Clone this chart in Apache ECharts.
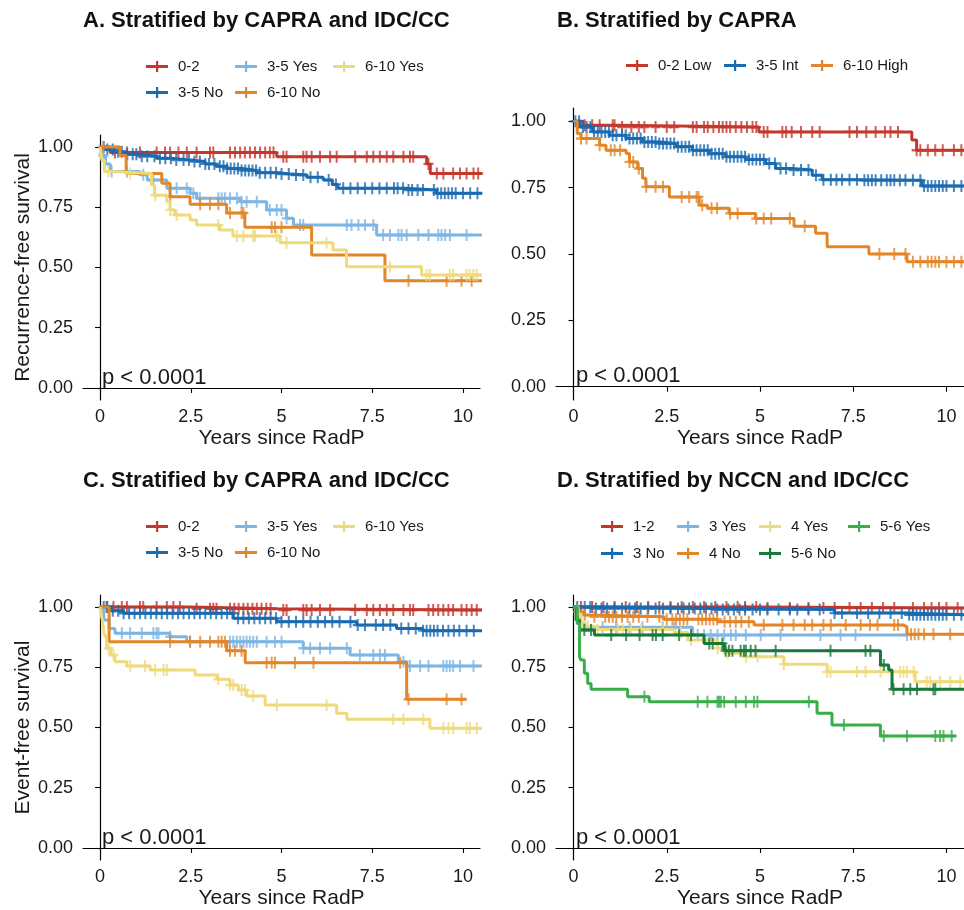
<!DOCTYPE html>
<html>
<head>
<meta charset="utf-8">
<script src="https://cdn.jsdelivr.net/npm/echarts@6/dist/echarts.min.js"></script>
<style>
html, body { margin: 0; padding: 0; background: #fff; }
#main { width: 964px; height: 910px; }
</style>
</head>
<body>
<div id="main"></div>
<script>
// tick labels
const xTicks = [0, 2.5, 5, 7.5, 10];
const yTicks = [0, 0.25, 0.5, 0.75, 1];

// ---- A. CAPRA and IDC/CC (recurrence-free) ----
const aNames = ['0-2', '3-5 No', '3-5 Yes', '6-10 No', '6-10 Yes'];
const aRed = [[0,1],[0.28,0.977],[4.87,0.96],[9.0,0.93],[9.1,0.89]];
const aBlue = [[0,1],[0.15,0.99],[0.4,0.98],[0.7,0.97],[1.1,0.962],[1.56,0.953],[2.0,0.946],[2.48,0.94],[2.9,0.93],[3.2,0.92],[3.5,0.911],[3.9,0.903],[4.32,0.893],[4.9,0.888],[5.23,0.884],[5.7,0.875],[6.15,0.863],[6.4,0.845],[6.55,0.829],[8.4,0.822],[9.27,0.808]];
const aLightBlue = [[0,1],[0.05,0.965],[0.15,0.93],[0.28,0.898],[1.1,0.885],[1.3,0.863],[1.84,0.829],[2.48,0.808],[2.66,0.787],[3.86,0.773],[4.59,0.739],[5.14,0.704],[5.33,0.676],[7.62,0.635]];
const aOrange = [[0,1],[0.55,0.965],[0.72,0.89],[1.7,0.85],[1.93,0.794],[2.48,0.763],[3.49,0.726],[3.99,0.667],[5.83,0.552],[7.85,0.445]];
const aYellow = [[0,1],[0.05,0.945],[0.12,0.898],[0.3,0.89],[1.42,0.842],[1.5,0.80],[1.84,0.773],[1.93,0.739],[2.06,0.718],[2.48,0.697],[2.66,0.676],[3.3,0.656],[3.66,0.631],[4.96,0.603],[6.42,0.573],[6.79,0.503],[8.86,0.469]];
const aRedCens = [0.41,0.74,1.1,1.56,1.79,1.93,2.16,2.39,2.66,3.03,3.12,3.58,3.72,3.86,3.99,4.13,4.27,4.41,4.55,4.68,4.78,5.05,5.14,5.6,5.69,5.83,6.06,6.34,6.52,7.03,7.35,7.53,7.71,7.9,8.08,8.36,8.54,8.63,9.05,9.28,9.46,9.73,9.92,10.1,10.29,10.42];
const aBlueCens = [0.1,0.2,0.35,0.5,0.6,0.75,0.9,1.0,1.15,1.3,1.5,1.65,1.8,1.95,2.1,2.3,2.45,2.6,2.75,2.9,3.0,3.15,3.3,3.4,3.5,3.6,3.7,3.8,3.9,4.0,4.1,4.2,4.3,4.4,4.55,4.7,4.85,5.0,5.2,5.4,5.6,5.8,6.0,6.3,6.5,6.7,6.9,7.1,7.3,7.5,7.7,7.9,8.1,8.2,8.35,8.5,8.6,8.75,8.9,9.2,9.3,9.4,9.5,9.6,9.7,9.8,10.0,10.2,10.4];
const aLightBlueCens = [0.09,0.32,0.74,1.19,1.47,2.11,2.39,2.57,2.75,3.26,3.35,3.44,3.58,3.77,3.9,4.04,4.32,4.68,4.87,5.0,5.14,5.51,5.6,6.8,6.93,7.12,7.3,7.53,7.8,7.99,8.22,8.31,8.45,8.77,9.05,9.32,9.41,9.51,9.64,10.1];
const aOrangeCens = [0.09,1.93,2.76,3.03,3.26,3.58,3.9,3.95,4.73,4.82,5.0,8.5,9.55,9.96,10.24];
const aYellowCens = [0.23,0.83,1.52,1.93,2.11,3.26,3.77,3.95,4.22,4.27,4.87,5.14,6.24,7.99,9.0,9.09,9.64,9.73,10.1,10.19,10.29,10.38];
const aEnds = [10.6, 10.6, 10.6, 10.6, 10.6];

// ---- B. CAPRA (recurrence-free) ----
const bNames = ['0-2 Low', '3-5 Int', '6-10 High'];
const bLow = [[0,1],[0.25,0.985],[1.14,0.978],[4.97,0.96],[9.07,0.929],[9.2,0.891]];
const bInt = [[0,1],[0.16,0.978],[0.52,0.96],[0.96,0.947],[1.41,0.935],[1.85,0.922],[2.3,0.916],[2.75,0.904],[3.19,0.891],[3.64,0.878],[4.08,0.866],[4.62,0.856],[5.15,0.841],[5.42,0.822],[5.86,0.816],[6.4,0.797],[6.67,0.78],[7.65,0.778],[9.34,0.756]];
const bHigh = [[0,1],[0.1,0.954],[0.2,0.935],[0.7,0.91],[0.87,0.891],[1.41,0.879],[1.5,0.847],[1.72,0.822],[1.85,0.785],[1.94,0.753],[2.57,0.715],[3.37,0.684],[3.59,0.672],[4.17,0.653],[4.88,0.634],[5.91,0.605],[6.49,0.578],[6.8,0.527],[7.92,0.5],[8.94,0.471]];
const bLowCens = [0.3,0.5,0.7,1.05,1.1,1.3,1.55,1.75,1.9,2.2,2.5,2.7,3.2,3.3,3.5,3.6,3.75,3.9,4.0,4.1,4.2,4.35,4.5,4.65,4.8,4.9,5.1,5.2,5.6,5.7,5.85,6.1,6.4,6.6,7.4,7.6,7.85,8.1,8.35,8.5,8.7,9.2,9.3,9.5,9.7,9.9,10.2,10.4];
const bIntCens = [0.05,0.15,0.25,0.35,0.45,0.55,0.65,0.75,0.85,0.95,1.05,1.15,1.3,1.4,1.5,1.6,1.7,1.8,1.9,2.0,2.1,2.2,2.3,2.4,2.5,2.6,2.7,2.8,2.9,3.0,3.1,3.2,3.3,3.4,3.5,3.6,3.7,3.8,3.9,4.0,4.1,4.2,4.3,4.4,4.5,4.6,4.7,4.8,4.9,5.0,5.1,5.25,5.4,5.55,5.7,5.9,6.1,6.3,6.5,6.7,6.9,7.05,7.2,7.4,7.6,7.8,7.9,8.0,8.1,8.25,8.4,8.5,8.6,8.75,8.9,9.1,9.3,9.4,9.5,9.6,9.7,9.8,9.9,10.0,10.2,10.4];
const bHighCens = [0.2,0.35,0.7,1.0,1.1,1.25,1.5,1.6,1.75,1.95,2.2,2.4,2.9,3.1,3.3,3.35,3.45,3.7,3.85,4.2,4.4,4.9,5.1,5.3,5.8,6.2,8.2,8.6,8.9,9.1,9.3,9.5,9.6,9.7,9.8,10.0,10.2,10.4];
const bEnds = [10.6, 10.6, 10.6];

// ---- C. CAPRA and IDC/CC (event-free) ----
const cNames = ['0-2', '3-5 No', '3-5 Yes', '6-10 No', '6-10 Yes'];
const cRed = [[0,1],[2.5,0.993],[4.9,0.988]];
const cBlue = [[0,1],[0.3,0.985],[0.65,0.974],[3.67,0.953],[4.87,0.939],[7.07,0.925],[8.17,0.911],[8.9,0.902]];
const cLightBlue = [[0,1],[0.1,0.946],[0.25,0.911],[0.41,0.891],[1.93,0.877],[2.39,0.856],[5.6,0.829],[6.89,0.801],[8.22,0.773],[8.45,0.755]];
const cOrange = [[0,1],[0.25,0.856],[3.49,0.819],[4.0,0.769],[8.45,0.617]];
const cYellow = [[0,1],[0.03,0.97],[0.08,0.93],[0.12,0.88],[0.18,0.829],[0.3,0.801],[0.41,0.773],[0.74,0.755],[1.38,0.739],[2.62,0.718],[3.22,0.70],[3.58,0.676],[3.81,0.656],[4.04,0.631],[4.55,0.593],[6.52,0.559],[6.8,0.534],[9.09,0.497]];
const cRedCens = [0.18,0.37,0.6,0.74,1.1,1.19,1.56,1.84,2.02,2.2,2.66,3.03,3.12,3.21,3.58,3.7,3.82,3.95,4.07,4.2,4.32,4.45,4.58,4.7,5.05,5.14,5.6,5.69,5.83,6.06,6.34,7.03,7.35,7.53,7.71,7.9,8.08,8.36,8.54,8.63,9.05,9.18,9.32,9.46,9.6,9.73,9.96,10.1,10.24,10.38];
const cBlueCens = [0.1,0.2,0.35,0.5,0.65,0.8,0.95,1.1,1.25,1.4,1.55,1.7,1.85,2.0,2.15,2.3,2.45,2.6,2.75,2.9,3.05,3.2,3.35,3.5,3.65,3.8,3.95,4.1,4.25,4.4,4.55,4.7,4.85,5.0,5.2,5.4,5.6,5.8,6.0,6.2,6.4,6.6,6.9,7.1,7.3,7.6,7.8,8.0,8.3,8.5,8.7,8.9,9.0,9.1,9.2,9.3,9.45,9.6,9.75,9.9,10.1,10.3];
const cLightBlueCens = [0.6,0.83,1.15,1.47,1.56,1.61,1.93,2.48,3.58,3.67,3.77,3.86,3.95,4.04,4.13,4.22,4.32,4.59,4.82,5.0,5.6,5.79,6.06,6.34,6.8,7.16,7.53,7.71,7.85,8.36,8.54,8.82,9.05,9.46,9.55,9.64,9.73,9.92,10.29];
const cOrangeCens = [1.93,2.48,2.76,3.03,3.26,3.35,3.44,3.58,3.72,3.9,4.59,4.73,4.82,5.37,5.88,8.27,8.5,9.55,9.96];
const cYellowCens = [0.23,0.37,0.83,1.24,1.52,1.75,1.84,3.26,3.58,3.67,3.9,3.99,4.22,4.87,6.24,8.08,8.36,8.91,9.46,9.6,9.73,10.1,10.19,10.38];
const cEnds = [10.6, 10.6, 10.6, 10.1, 10.6];

// ---- D. NCCN and IDC/CC (event-free) ----
const dNames = ['1-2', '3 No', '3 Yes', '4 No', '4 Yes', '5-6 No', '5-6 Yes'];
const dRed = [[0,1],[5.0,0.996]];
const dBlue = [[0,1],[0.5,0.994],[3.8,0.99],[7.0,0.975],[8.9,0.968]];
const dLightBlue = [[0,1],[0.12,0.932],[0.25,0.916],[3.19,0.884]];
const dOrange = [[0,1],[0.12,0.98],[0.28,0.967],[0.38,0.96],[2.43,0.949],[3.86,0.939],[4.84,0.925],[8.85,0.918],[8.94,0.887]];
const dYellow = [[0,1],[0.12,0.97],[0.2,0.94],[0.25,0.92],[0.65,0.907],[2.7,0.894],[3.06,0.863],[3.86,0.829],[4.13,0.808],[4.57,0.794],[5.64,0.763],[6.8,0.731],[9.16,0.69]];
const dDarkGreen = [[0,1],[0.07,0.946],[0.16,0.905],[0.56,0.884],[3.5,0.849],[4.04,0.819],[8.23,0.759],[8.45,0.739],[8.54,0.659]];
const dGreen = [[0,1],[0.1,0.932],[0.16,0.794],[0.2,0.78],[0.29,0.725],[0.38,0.683],[0.47,0.659],[1.45,0.628],[2.03,0.607],[6.53,0.559],[6.93,0.51],[8.23,0.465]];
const dRedCens = [0.2,0.5,0.8,1.1,1.4,1.7,2.0,2.3,2.6,2.9,3.2,3.5,3.8,4.1,4.4,4.6,4.9,5.2,5.8,6.3,6.7,7.0,7.4,7.7,8.0,8.3,8.6,9.1,9.4,9.6,9.8,10.0,10.3];
const dBlueCens = [0.1,0.3,0.45,0.6,0.75,0.9,1.1,1.3,1.5,1.65,1.8,2.0,2.2,2.4,2.6,2.8,2.95,3.1,3.25,3.4,3.55,3.7,3.85,4.0,4.15,4.3,4.45,4.6,4.8,5.0,5.2,5.5,5.8,6.0,6.3,6.6,7.0,7.2,7.6,7.9,8.2,8.5,8.8,9.0,9.1,9.2,9.3,9.4,9.5,9.6,9.7,9.8,9.9,10.0,10.2,10.4];
const dLightBlueCens = [0.21,0.78,1.14,1.5,1.85,2.39,2.7,3.33,3.5,3.68,3.86,4.04,4.22,4.35,4.62,5.02,5.55,6.62,7.16,7.56,8.94];
const dOrangeCens = [0.12,0.3,0.56,0.85,0.95,1.05,1.15,1.3,1.45,1.6,1.75,1.98,2.3,2.5,2.65,2.75,2.85,2.95,3.05,3.35,3.45,3.55,3.65,3.75,3.85,4.05,4.2,4.35,4.5,4.7,5.1,5.6,5.9,6.2,6.4,6.7,6.9,7.3,7.7,7.95,8.15,8.6,8.7,9.05,9.15,9.25,9.4,9.65,10.1];
const dYellowCens = [0.29,0.38,0.65,1.19,1.32,1.54,1.81,2.39,2.88,3.15,3.86,4.04,4.13,4.62,4.93,5.64,6.8,6.89,7.6,7.83,8.23,8.76,8.85,8.94,9.12,9.47,9.56,9.83,10.1,10.37];
const dDarkGreenCens = [0.29,0.47,1.01,1.41,1.77,2.12,2.21,2.39,2.83,3.15,3.64,3.73,3.99,4.08,4.17,4.26,4.48,4.57,4.62,4.75,4.88,5.42,6.89,7.83,7.96,8.32,8.58,8.85,9.03,9.21,9.65,9.7];
const dGreenCens = [1.9,3.33,3.59,3.86,3.9,3.95,4.04,4.35,4.62,4.84,4.93,6.31,7.25,8.32,8.94,9.7,9.83,9.92,10.14];
const dEnds = [10.6, 10.6, 8.94, 10.6, 10.6, 10.6, 10.25];

// colours
const RED = '#C4372C', BLUE = '#1A6AB0', LBLUE = '#7DB5E3', ORANGE = '#E2862A',
      YELLOW = '#EEDA7A', DGREEN = '#18793A', GREEN = '#3AAD4A';

const FONT = '"Liberation Sans", Arial, Helvetica, sans-serif';
const TXT = '#1a1a1a';
const CROSS = 'path://M0,4h10v2H0z M4,0h2v10H4z';
const KEY = 'path://M0,4h22v3H0z M10,0h2.2v11h-2.2z';

const panels = [
    { title: 'A. Stratified by CAPRA and IDC/CC', ytitle: 'Recurrence-free survival',
      names: aNames, colors: [RED, BLUE, LBLUE, ORANGE, YELLOW],
      curves: [aRed, aBlue, aLightBlue, aOrange, aYellow],
      cens: [aRedCens, aBlueCens, aLightBlueCens, aOrangeCens, aYellowCens], ends: aEnds,
      grid: { left: 83, top: 135, width: 397, height: 265 }, titleTop: 10, titleLeft: 83,
      keys: [[146, 67], [146, 93], [235, 67], [235, 93], [333, 67]], p: [102, 378] },
    { title: 'B. Stratified by CAPRA', ytitle: '',
      names: bNames, colors: [RED, BLUE, ORANGE],
      curves: [bLow, bInt, bHigh],
      cens: [bLowCens, bIntCens, bHighCens], ends: bEnds,
      grid: { left: 556, top: 108, width: 409, height: 292 }, titleTop: 10, titleLeft: 557,
      keys: [[626, 66], [724, 66], [811, 66]], p: [576, 376] },
    { title: 'C. Stratified by CAPRA and IDC/CC', ytitle: 'Event-free survival',
      names: cNames, colors: [RED, BLUE, LBLUE, ORANGE, YELLOW],
      curves: [cRed, cBlue, cLightBlue, cOrange, cYellow],
      cens: [cRedCens, cBlueCens, cLightBlueCens, cOrangeCens, cYellowCens], ends: cEnds,
      grid: { left: 83, top: 595, width: 397, height: 265 }, titleTop: 470, titleLeft: 83,
      keys: [[146, 527], [146, 553], [235, 527], [235, 553], [333, 527]], p: [102, 838] },
    { title: 'D. Stratified by NCCN and IDC/CC', ytitle: '',
      names: dNames, colors: [RED, BLUE, LBLUE, ORANGE, YELLOW, DGREEN, GREEN],
      curves: [dRed, dBlue, dLightBlue, dOrange, dYellow, dDarkGreen, dGreen],
      cens: [dRedCens, dBlueCens, dLightBlueCens, dOrangeCens, dYellowCens, dDarkGreenCens, dGreenCens], ends: dEnds,
      grid: { left: 556, top: 595, width: 409, height: 265 }, titleTop: 470, titleLeft: 557,
      keys: [[601, 527], [601, 554], [677, 527], [677, 554], [759, 527], [759, 554], [848, 527]], p: [576, 838] }
];

// survival value of a step curve at time t
const survAt = (curve, t) => {
    let s = curve[0][1];
    curve.forEach(p => { if (p[0] <= t) s = p[1]; });
    return s;
};

const option = {
    animation: false,
    backgroundColor: '#fff',
    textStyle: { fontFamily: FONT },
    title: [], grid: [], xAxis: [], yAxis: [], legend: [], series: [], graphic: []
};

panels.forEach((pn, i) => {
    option.title.push({
        text: pn.title, left: pn.titleLeft, top: pn.titleTop, padding: 0,
        textStyle: { fontFamily: FONT, fontSize: 22, fontWeight: 'bold', color: '#111' }
    });
    option.grid.push(Object.assign({ containLabel: false }, pn.grid));
    option.xAxis.push({
        type: 'value', gridIndex: i, min: -0.47, max: 10.47,
        name: 'Years since RadP', nameLocation: 'middle', nameGap: 28,
        nameTextStyle: { fontFamily: FONT, fontSize: 21, color: TXT },
        axisLine: { lineStyle: { color: '#000', width: 1.2 } },
        axisTick: { show: true, length: 5, lineStyle: { color: '#000', width: 1.1 }, customValues: xTicks },
        axisLabel: { fontFamily: FONT, fontSize: 18, color: TXT, margin: 8, customValues: xTicks },
        splitLine: { show: false }
    });
    option.yAxis.push({
        type: 'value', gridIndex: i, min: -0.05, max: 1.05,
        name: pn.ytitle, nameLocation: 'middle', nameGap: 49,
        nameTextStyle: { fontFamily: FONT, fontSize: 21, color: TXT },
        axisLine: { show: true, lineStyle: { color: '#000', width: 1.2 } },
        axisTick: { show: true, length: 5, lineStyle: { color: '#000', width: 1.1 }, customValues: yTicks },
        axisLabel: { fontFamily: FONT, fontSize: 18, color: TXT, margin: 10, customValues: yTicks,
                     formatter: v => v.toFixed(2) },
        splitLine: { show: false }
    });
    pn.names.forEach((name, k) => {
        const curve = pn.curves[k];
        const last = curve[curve.length - 1][1];
        option.series.push({
            type: 'line', name: name, xAxisIndex: i, yAxisIndex: i,
            step: 'end', showSymbol: false, color: pn.colors[k],
            lineStyle: { width: 3, color: pn.colors[k] },
            data: curve.concat([[pn.ends[k], last]]), z: 2 + k
        });
        option.series.push({
            type: 'scatter', name: name, xAxisIndex: i, yAxisIndex: i,
            symbol: CROSS, symbolSize: [10, 12], color: pn.colors[k],
            itemStyle: { color: pn.colors[k] },
            data: pn.cens[k].map(t => [t, survAt(curve, t)]), z: 2 + k
        });
        option.legend.push({
            data: [{ name: name, icon: KEY }], selectedMode: false, padding: 0,
            left: pn.keys[k][0], top: pn.keys[k][1] - 8, itemWidth: 22, itemHeight: 11,
            textStyle: { fontFamily: FONT, fontSize: 15, color: TXT, padding: [0, 0, 0, 5] }
        });
    });
    option.graphic.push({
        type: 'text', left: pn.p[0], top: pn.p[1] - 11,
        style: { text: 'p < 0.0001', font: '22px ' + FONT, fill: TXT }
    });
});

const chart = echarts.init(document.getElementById('main'));
chart.setOption(option);
</script>
</body>
</html>
